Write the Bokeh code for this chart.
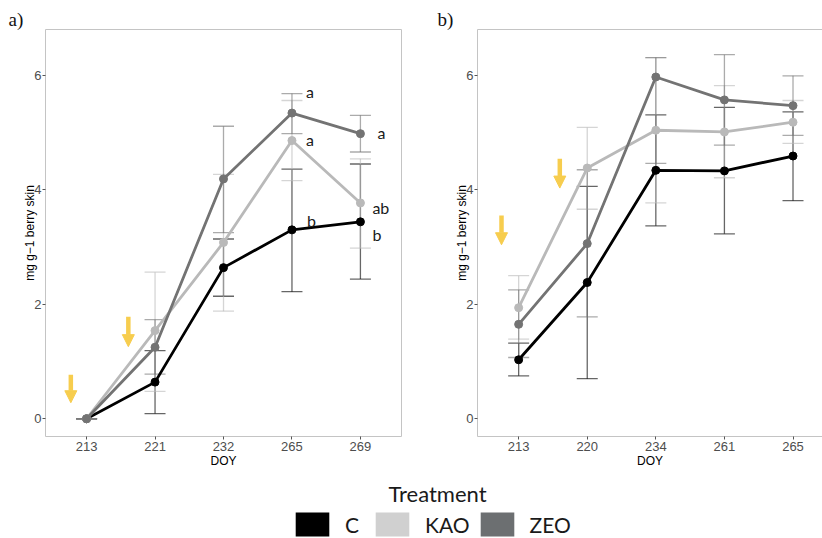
from bokeh.plotting import figure
from bokeh.models import (Range1d, FixedTicker, LinearAxis, Whisker, TeeHead, ColumnDataSource,
                          Arrow, NormalHead, Label, Legend, LegendItem)
from bokeh.layouts import column, row
from bokeh.embed import file_html
from bokeh.resources import INLINE
from bokeh.core.properties import value

# ---------------- data ----------------
treatments = ["C", "KAO", "ZEO"]

# panel a
doy_a = ["213", "221", "232", "265", "269"]
C_a = [0.00, 0.64, 2.64, 3.30, 3.44]
C_a_lo = [0.00, 0.09, 2.14, 2.22, 2.44]
C_a_hi = [0.00, 1.19, 3.14, 4.36, 4.45]
KAO_a = [0.00, 1.54, 3.08, 4.86, 3.77]
KAO_a_lo = [0.00, 0.48, 1.88, 4.16, 2.98]
KAO_a_hi = [0.00, 2.56, 4.27, 5.56, 4.54]
ZEO_a = [0.00, 1.25, 4.19, 5.34, 4.98]
ZEO_a_lo = [0.00, 0.78, 3.25, 4.98, 4.66]
ZEO_a_hi = [0.00, 1.73, 5.11, 5.68, 5.30]

# panel b
doy_b = ["213", "220", "234", "261", "265"]
C_b = [1.03, 2.38, 4.34, 4.33, 4.59]
C_b_lo = [0.75, 0.70, 3.37, 3.23, 3.81]
C_b_hi = [1.32, 4.06, 5.31, 5.44, 5.36]
KAO_b = [1.94, 4.38, 5.04, 5.01, 5.18]
KAO_b_lo = [1.39, 3.66, 3.77, 4.21, 4.81]
KAO_b_hi = [2.50, 5.09, 6.31, 5.82, 5.56]
ZEO_b = [1.65, 3.06, 5.97, 5.57, 5.47]
ZEO_b_lo = [1.07, 1.78, 4.46, 4.78, 4.95]
ZEO_b_hi = [2.25, 4.35, 6.31, 6.36, 5.99]

y_ticks = [0, 2, 4, 6]

# significance letters in panel a: (treatment, day index, letter)
letters_a = [("ZEO", 3, "a"), ("KAO", 3, "a"), ("C", 3, "b"),
             ("ZEO", 4, "a"), ("KAO", 4, "ab"), ("C", 4, "b")]

# ---------------- styles ----------------
line_colors = {"C": "#000000", "KAO": "#b9b9b9", "ZEO": "#737373"}
legend_colors = {"C": "#000000", "KAO": "#d0d0d0", "ZEO": "#6c6f71"}
arrow_color = "#f7cd4e"
border_color = "#c4c4c4"
tick_font = "Liberation Sans"

# letter offsets in pixels (dx, dy) - layout only
letter_offsets_a = [(14, -22), (14, -1), (15, -9), (17, -1), (12, 5), (12, 13)]

# treatment-window arrows (annotation positions in axis units)
arrows_a = [(0.77, 0.77, 0.28), (1.61, 1.78, 1.26)]
arrows_b = [(0.75, 3.55, 3.04), (1.60, 4.54, 4.03)]


def make_panel(doy, series, lows, highs, arrows, tag, tag_offset, width, x_end,
               min_left, min_right, full_border):
    p = figure(width=width, height=470, x_range=Range1d(0.4, x_end), y_range=Range1d(-0.31, 6.8),
               output_backend="svg", toolbar_location=None,
               min_border_left=min_left, min_border_right=min_right,
               min_border_top=29, min_border_bottom=33,
               background_fill_color="white", border_fill_color="white")
    p.title.text = tag
    p.title.align = "left"
    p.title.offset = tag_offset
    p.title.standoff = 0
    p.title.text_font = "Liberation Serif"
    p.title.text_font_size = "19px"
    p.title.text_font_style = "normal"
    p.title.text_color = "#111111"
    p.xgrid.visible = False
    p.ygrid.visible = False
    xaxis = p.below[0]
    yaxis = p.left[0]
    if full_border:
        p.outline_line_color = border_color
        p.outline_line_width = 1
        axis_line = None
    else:
        p.outline_line_color = None
        axis_line = border_color
        top = LinearAxis(ticker=FixedTicker(ticks=[]), axis_line_color=border_color,
                         major_tick_line_color=None, minor_tick_line_color=None,
                         major_label_text_font_size="0px", axis_label_standoff=0,
                         major_label_standoff=0)
        p.add_layout(top, "above")

    xs = list(range(1, len(doy) + 1))
    xaxis.ticker = FixedTicker(ticks=xs)
    xaxis.major_label_overrides = {x: lab for x, lab in zip(xs, doy)}
    yaxis.ticker = FixedTicker(ticks=y_ticks)
    for ax in (xaxis, yaxis):
        ax.axis_line_color = axis_line
        ax.major_tick_line_color = "#555555"
        ax.major_tick_in = 0
        ax.major_tick_out = 3
        ax.minor_tick_line_color = None
        ax.major_label_text_font = tick_font
        ax.major_label_text_font_size = "13px"
        ax.major_label_text_color = "#4d4d4d"
        ax.axis_label_text_font = tick_font
        ax.axis_label_text_font_size = "12px"
        ax.axis_label_text_font_style = "normal"
        ax.axis_label_text_color = "#000000"
    xaxis.major_label_standoff = 2
    xaxis.axis_label_standoff = 0
    yaxis.major_label_standoff = 1
    yaxis.axis_label_standoff = -6
    xaxis.axis_label = "DOY"
    yaxis.axis_label = "mg g\u22121 berry skin"

    # error bars
    for t in treatments:
        src = ColumnDataSource(dict(x=xs, lower=lows[t], upper=highs[t]))
        w = Whisker(base="x", lower="lower", upper="upper", source=src, dimension="height",
                    line_color=line_colors[t], line_alpha=0.6, line_width=1.3,
                    upper_head=TeeHead(size=21, line_color=line_colors[t], line_alpha=0.6, line_width=1.3),
                    lower_head=TeeHead(size=21, line_color=line_colors[t], line_alpha=0.6, line_width=1.3))
        p.add_layout(w)
    # lines
    for t in treatments:
        p.line(xs, series[t], line_color=line_colors[t], line_width=2.8)
    # points
    for t in treatments:
        p.scatter(xs, series[t], size=8, fill_color=line_colors[t], line_color=line_colors[t])

    # arrows
    for (ax_x, y0, y1) in arrows:
        p.add_layout(Arrow(x_start=ax_x, y_start=y0, x_end=ax_x, y_end=y1,
                           line_color=arrow_color, line_width=4.5,
                           end=NormalHead(size=12, fill_color=arrow_color, line_color=arrow_color,
                                          line_width=1)))
    return p


pa = make_panel(doy_a, {"C": C_a, "KAO": KAO_a, "ZEO": ZEO_a},
                {"C": C_a_lo, "KAO": KAO_a_lo, "ZEO": ZEO_a_lo},
                {"C": C_a_hi, "KAO": KAO_a_hi, "ZEO": ZEO_a_hi},
                arrows_a, "a)", -37, 430, 5.6, 45, 29, True)
pb = make_panel(doy_b, {"C": C_b, "KAO": KAO_b, "ZEO": ZEO_b},
                {"C": C_b_lo, "KAO": KAO_b_lo, "ZEO": ZEO_b_lo},
                {"C": C_b_hi, "KAO": KAO_b_hi, "ZEO": ZEO_b_hi},
                arrows_b, "b)", -40, 392, 5.43, 47, 0, False)

# significance letters on panel a
series_a = {"C": C_a, "KAO": KAO_a, "ZEO": ZEO_a}
lsrc = ColumnDataSource(dict(
    x=[i + 1 for (_, i, _) in letters_a],
    y=[series_a[t][i] for (t, i, _) in letters_a],
    text=[s for (_, _, s) in letters_a],
    dx=[o[0] for o in letter_offsets_a],
    dy=[o[1] for o in letter_offsets_a]))
pa.text(x="x", y="y", text="text", x_offset="dx", y_offset="dy", source=lsrc,
        text_font=value("Lato"), text_font_size="16px", text_align="left",
        text_baseline="alphabetic", text_color="#1a1a1a")

# legend strip
pl = figure(width=822, height=68, x_range=Range1d(0, 822), y_range=Range1d(0, 68),
            output_backend="svg", toolbar_location=None, min_border=0,
            min_border_left=0, min_border_right=0, min_border_top=0, min_border_bottom=0,
            outline_line_color=None, background_fill_color="white", border_fill_color="white")
pl.axis.visible = False
pl.xgrid.visible = False
pl.ygrid.visible = False
items = []
nan = float("nan")
for t in treatments:
    r = pl.quad(left=[nan], right=[nan], top=[nan], bottom=[nan],
                fill_color=legend_colors[t], line_color=None)
    items.append(LegendItem(label=t, renderers=[r]))
leg = Legend(items=items, orientation="horizontal", location=(291, -1),
             glyph_width=42, glyph_height=30, label_standoff=12, spacing=6,
             padding=0, margin=0, border_line_color=None, background_fill_alpha=0,
             label_text_font="Lato", label_text_font_size="21px", label_text_color="#1a1a1a",
             label_text_baseline="middle")
pl.add_layout(leg)
pl.add_layout(Label(x=437, y=45, x_units="screen", y_units="screen", text="Treatment",
                    text_font="Lato", text_font_size="22px", text_align="center",
                    text_baseline="alphabetic", text_color="#1a1a1a"))

layout = column(row(pa, pb, spacing=0), pl, spacing=0)
open("out.html", "w").write(file_html(layout, INLINE))
